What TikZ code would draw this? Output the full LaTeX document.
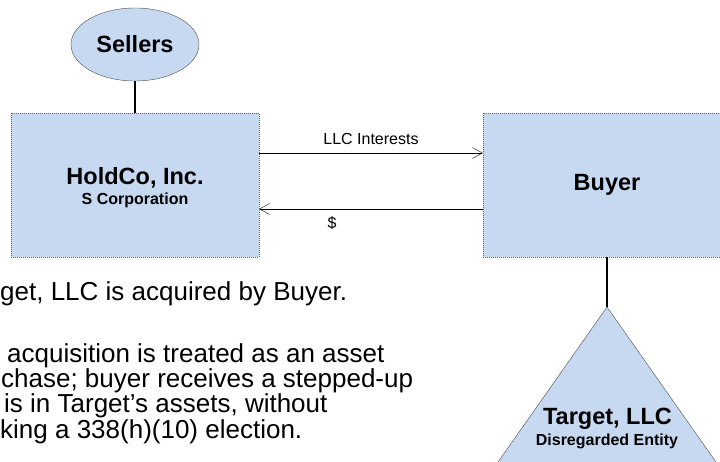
\documentclass[tikz,border=0pt]{standalone}
\usepackage{fontspec}
\setmainfont{Liberation Sans}
\usetikzlibrary{shapes.geometric,arrows.meta}
\definecolor{entfill}{RGB}{198,217,241}
\tikzset{
	entbox/.style={draw=black!60,dash pattern=on 1pt off 1pt,fill=entfill,minimum width=248pt,minimum height=144pt,inner sep=0pt},
	namefont/.style={font=\fontsize{23.5}{26}\selectfont\bfseries},
	typefont/.style={font=\fontsize{16}{18}\selectfont\bfseries},
	smallfont/.style={font=\fontsize{16}{18}\selectfont},
	bodyline/.style={anchor=base west,inner sep=0pt,font=\fontsize{26}{26}\selectfont},
	owns/.style={line width=1.8pt}
}
\begin{document}
\begin{tikzpicture}[>={Straight Barb[length=10pt,width=11pt]},x=1pt,y=1pt]
		\useasboundingbox (0,0) rectangle (720,462);
		% entities
		\node[ellipse,draw=black!70,fill=entfill,minimum width=128pt,minimum height=73pt,inner sep=0pt,namefont] (sellers) at (135,417.5) {Sellers};
		\node[entbox] (holdco) at (135,277) {};
		\node[entbox,namefont] (buyer) at (607,277) {Buyer};
		\filldraw[fill=entfill,draw=black!70] (607,155) -- (728.6,-18) -- (485.4,-18) -- cycle;
		\coordinate (tgttop) at (607,155);
		\node[namefont,anchor=base,inner sep=0pt] (holdconame) at (135,277) {HoldCo, Inc.};
		\node[typefont,anchor=base,inner sep=0pt] (holdcotype) at (135,257) {S Corporation};
		\node[namefont,anchor=base,inner sep=0pt] (tgtname) at (607.5,37) {Target, LLC};
		\node[typefont,anchor=base,inner sep=0pt] (tgttype) at (607,16) {Disregarded Entity};
		% ownership
		\draw[owns] (sellers) -- (holdco);
		\draw[owns] (buyer) -- (tgttop);
		% exchange
		\draw[->,thin] ([yshift=32pt]holdco.east) -- ([yshift=32pt]buyer.west) node[midway,above=4.5pt,smallfont] {LLC Interests};
		\draw[->,thin] ([yshift=-24pt]buyer.west) -- ([yshift=-24pt]holdco.east) node[pos=0.674,below=4.5pt,smallfont] {\$};
		% text
		\node[bodyline] (note1) at (0,161) {get, LLC is acquired by Buyer.};
		\node[bodyline] (note2) at (7,99) {acquisition is treated as an asset};
		\node[bodyline] (note3) at (1,74) {chase; buyer receives a stepped-up};
		\node[bodyline] (note4) at (4,49) {is in Target’s assets, without};
		\node[bodyline] (note5) at (0,23) {king a 338(h)(10) election.};
\end{tikzpicture}
\end{document}
